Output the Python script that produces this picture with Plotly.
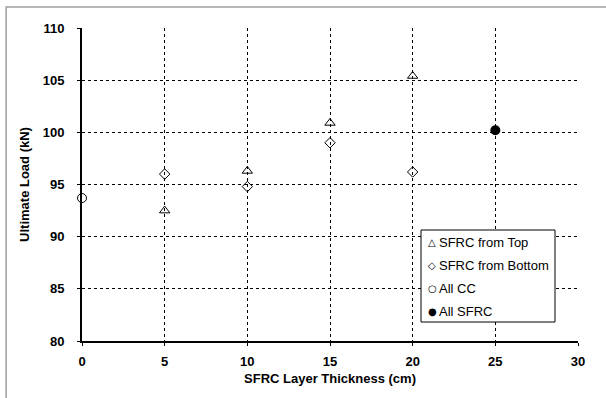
import plotly.graph_objects as go

top_x = [5, 10, 15, 20]
top_y = [92.5, 96.3, 100.9, 105.4]
bot_x = [5, 10, 15, 20]
bot_y = [96.0, 94.8, 99.0, 96.2]
cc_x = [0]
cc_y = [93.7]
sfrc_x = [25]
sfrc_y = [100.2]

series_names = ["SFRC from Top", "SFRC from Bottom", "All CC", "All SFRC"]
legend_glyphs = ["\u25B3", "\u25C7", "\u25CB", "\u25CF"]

font = "Liberation Sans, Arial, sans-serif"

fig = go.Figure()
fig.add_trace(go.Scatter(x=top_x, y=top_y, mode="markers", name=series_names[0],
                         marker=dict(symbol="triangle-up-open", size=9, color="black", line=dict(width=1))))
fig.add_trace(go.Scatter(x=bot_x, y=bot_y, mode="markers", name=series_names[1],
                         marker=dict(symbol="diamond-open", size=8, color="black", line=dict(width=1))))
fig.add_trace(go.Scatter(x=cc_x, y=cc_y, mode="markers", name=series_names[2],
                         marker=dict(symbol="circle-open", size=9, color="black", line=dict(width=1)),
                         cliponaxis=False))
fig.add_trace(go.Scatter(x=sfrc_x, y=sfrc_y, mode="markers", name=series_names[3],
                         marker=dict(symbol="circle", size=10, color="black")))

# manual legend (box + rows)
L, R, T, B = 82, 578, 28, 341
def px(v): return (v - L) / (R - L)
def py(v): return (B - v) / (B - T)

row_y = [242, 265, 288, 311]
annotations = []
for name, glyph, yy in zip(series_names, legend_glyphs, row_y):
    annotations.append(dict(xref="paper", yref="paper", x=px(432), y=py(yy), text=glyph,
                            showarrow=False, xanchor="center", yanchor="middle",
                            font=dict(size=10, family="DejaVu Sans", color="black")))
    annotations.append(dict(xref="paper", yref="paper", x=px(437), y=py(yy), text=name,
                            showarrow=False, xanchor="left", yanchor="middle",
                            font=dict(size=13, family=font, color="black")))

fig.update_layout(
    width=606, height=398,
    margin=dict(l=L, r=606 - R, t=T, b=398 - B),
    paper_bgcolor="white", plot_bgcolor="white",
    font=dict(family=font, color="black"),
    showlegend=False,
    annotations=annotations,
    shapes=[dict(type="rect", xref="paper", yref="paper",
                 x0=-0.153, x1=1.1, y0=-0.3, y1=1.067,
                 line=dict(color="#a0a0a0", width=1.5), layer="below"),
            dict(type="rect", xref="paper", yref="paper",
                 x0=px(421), x1=px(555), y0=py(322), y1=py(230),
                 line=dict(color="black", width=1), fillcolor="white", layer="above")],
)
fig.update_xaxes(range=[0, 30], dtick=5, tick0=0,
                 showgrid=True, gridcolor="black", griddash="dot", gridwidth=1,
                 showline=True, linecolor="black", linewidth=2,
                 ticks="outside", ticklen=3, tickcolor="black",
                 zeroline=False, ticklabelstandoff=4,
                 tickfont=dict(size=13, family=font, weight="bold"),
                 title=dict(text="SFRC Layer Thickness (cm)", font=dict(size=13, family=font, weight="bold"), standoff=6))
fig.update_yaxes(range=[80, 110], dtick=5, tick0=80,
                 showgrid=True, gridcolor="black", griddash="dot", gridwidth=1,
                 showline=True, linecolor="black", linewidth=2,
                 ticks="outside", ticklen=3, tickcolor="black",
                 zeroline=False, ticklabelstandoff=10,
                 tickfont=dict(size=13, family=font, weight="bold"),
                 title=dict(text="Ultimate Load (kN)", font=dict(size=13, family=font, weight="bold"), standoff=10))

fig.write_html("out.html")
